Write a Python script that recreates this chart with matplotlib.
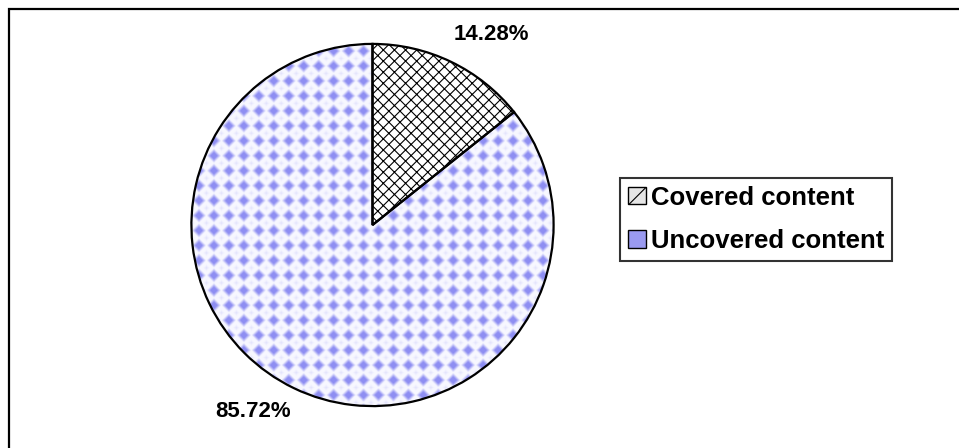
import matplotlib.pyplot as plt
import numpy as np
from matplotlib.patches import Patch, Rectangle

plt.rcParams["font.family"] = ["Liberation Sans", "DejaVu Sans"]
plt.rcParams["hatch.linewidth"] = 0.8

labels = ["Covered content", "Uncovered content"]
shares = [14.28, 85.72]
pct_text = ["14.28%", "85.72%"]

W, H = 959, 448
fig = plt.figure(figsize=(W / 100, H / 100), dpi=100)

# pie sits in a square box, centre (372, 225), radius 182 px
cx, cy, r = 372.5, 225, 182
ax = fig.add_axes([(cx - r) / W, (H - cy - r) / H, 2 * r / W, 2 * r / H])
ax.axis("off")

wedges, _ = ax.pie(shares, startangle=90, counterclock=False, radius=1,
                   colors=["white", "white"],
                   wedgeprops=dict(edgecolor="black", linewidth=1.6))
ax.set_xlim(-1.005, 1.005)
ax.set_ylim(-1.005, 1.005)
wedges[0].set_hatch("xxx")

# dotted fill for the big slice: diamond dots on a 15 px grid
n = int(2 * r)
yy, xx = np.mgrid[0:n, 0:n].astype(float)
per = 15.0
dx = np.abs((xx % per) - per / 2)
dy = np.abs((yy % per) - per / 2)
big = np.clip((1 - (dx + dy) / 7.5) * 1.8, 0, 1)
dx2 = np.abs(((xx + per / 2) % per) - per / 2)
dy2 = np.abs(((yy + per / 2) % per) - per / 2)
small = 0.2 * np.clip(1 - (dx2 + dy2) / 3.5, 0, 1)
amt = np.clip(big + small, 0, 1)
dot = np.array([0.56, 0.56, 0.95])
bg = np.array([0.97, 0.97, 1.0])
tex = bg + (dot - bg) * amt[..., None]
img = ax.imshow(tex, extent=(-1, 1, -1, 1), interpolation="bilinear", zorder=0.5)
img.set_clip_path(wedges[1])
wedges[1].set_facecolor("none")
wedges[1].set_zorder(1)

# slice percentages
fig.text(491 / W, 1 - 35 / H, pct_text[0], ha="center", va="center",
         fontsize=16, fontweight="bold")
fig.text(253 / W, 1 - 411 / H, pct_text[1], ha="center", va="center",
         fontsize=16, fontweight="bold")

handles = [
    Patch(facecolor="#e6e6e6", edgecolor="black", hatch="/", linewidth=1),
    Patch(facecolor="#9a9af0", edgecolor="black", linewidth=1),
]
leg = fig.legend(handles, labels, loc="upper left",
                 bbox_to_anchor=(620 / W, 1 - 178 / H),
                 prop=dict(size=18.5, weight="bold"), frameon=True,
                 fancybox=False, borderaxespad=0, borderpad=0.3,
                 handlelength=0.7, handleheight=0.65, handletextpad=0.2,
                 labelspacing=0.75)
leg.get_frame().set_edgecolor("black")
leg.get_frame().set_linewidth(1.5)

# outer chart border (only top and left edges fall inside the image)
fig.patches.append(Rectangle((9 / W, -0.1), 2, 1 - 9.5 / H + 0.1,
                             transform=fig.transFigure, fill=False,
                             edgecolor="black", linewidth=1.6))

fig.savefig("out.png", dpi=100)
